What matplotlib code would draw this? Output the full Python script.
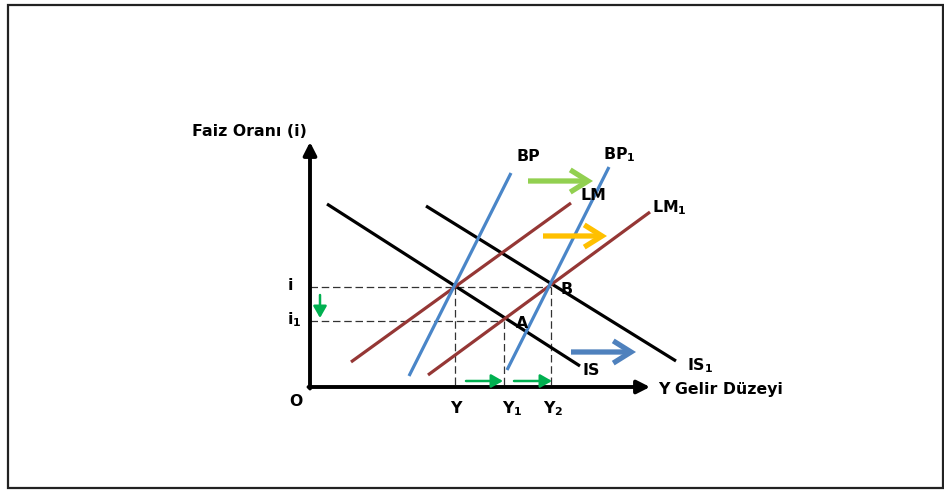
import matplotlib
matplotlib.use("Agg")
import matplotlib.pyplot as plt
from matplotlib.patches import FancyArrowPatch, Rectangle

plt.rcParams['font.family'] = ['DejaVu Sans']
plt.rcParams['mathtext.default'] = 'regular'

# ---- schematic data (pixel-like diagram units, origin of the graph at O) ----
origin = (310, 387)
x_axis_end = 650
y_axis_end = 142

curve_names = ["IS", "IS1", "LM", "LM1", "BP", "BP1"]
curve_x0 = [327, 426, 351, 428, 409, 507]
curve_y0 = [204, 206, 362, 375, 376, 370]
curve_x1 = [580, 676, 571, 650, 511, 609]
curve_y1 = [366, 361, 203, 212, 173, 167]
curve_colors = ["black", "black", "#953735", "#953735", "#4A86C8", "#4A86C8"]

# equilibrium levels
i_level = 287
i1_level = 321
Y_pos = [455, 504, 551]   # Y, Y1, Y2
h_ends = [551, 502]        # end of dashed i and i1 lines

labels = ["Faiz Oranı (i)", "O", "Y Gelir Düzeyi", "i", "i$_1$", "Y", "Y$_1$", "Y$_2$",
          "A", "B", "IS", "IS$_1$", "LM", "LM$_1$", "BP", "BP$_1$"]
label_x = [192, 289, 658, 288, 287, 450, 502, 543, 516, 561, 582, 687, 581, 652, 517, 603]
label_y = [131, 401, 389, 285, 320, 408, 409, 409, 323, 289, 370, 366, 195, 208, 156, 155]

big_arrows_x0 = [528, 543, 571]
big_arrows_x1 = [593, 607, 636]
big_arrows_y = [181, 236, 352]
big_arrow_colors = ["#92D050", "#FFC000", "#4F81BD"]

small_arrows = [((466, 381), (503, 381)), ((514, 381), (552, 381)), ((320, 295), (320, 318))]
small_arrow_color = "#00B050"

fig = plt.figure(figsize=(9.45, 4.9), dpi=100)
ax = fig.add_axes([0, 0, 1, 1])
ax.set_xlim(0, 945)
ax.set_ylim(490, 0)
ax.axis('off')

# frame
ax.add_patch(Rectangle((8, 5), 935, 483, fill=False, lw=1.6, edgecolor='#222222'))

# dashed guides
dash = dict(color='#333333', lw=0.9, ls=(0, (6, 3)))
ax.plot([origin[0], h_ends[0]], [i_level, i_level], **dash)
ax.plot([origin[0], h_ends[1]], [i1_level, i1_level], **dash)
ax.plot([Y_pos[0], Y_pos[0]], [i_level, origin[1]], **dash)
ax.plot([Y_pos[1], Y_pos[1]], [i1_level, origin[1]], **dash)
ax.plot([Y_pos[2], Y_pos[2]], [i_level, origin[1]], **dash)

# curves
for x0, y0, x1, y1, c in zip(curve_x0, curve_y0, curve_x1, curve_y1, curve_colors):
    ax.plot([x0, x1], [y0, y1], color=c, lw=2.3, solid_capstyle='butt', zorder=3)

# axes
ax.add_patch(FancyArrowPatch((origin[0], origin[1] + 1.5), (origin[0], y_axis_end),
                             arrowstyle='-|>,head_length=0.55,head_width=0.28',
                             mutation_scale=14, lw=2.8, color='black', zorder=4,
                             shrinkA=0, shrinkB=0))
ax.add_patch(FancyArrowPatch((origin[0] - 1.5, origin[1]), (x_axis_end, origin[1]),
                             arrowstyle='-|>,head_length=0.55,head_width=0.28',
                             mutation_scale=14, lw=2.8, color='black', zorder=4,
                             shrinkA=0, shrinkB=0))

# big shift arrows
for x0, x1, y, c in zip(big_arrows_x0, big_arrows_x1, big_arrows_y, big_arrow_colors):
    ax.add_patch(FancyArrowPatch((x0, y), (x1, y),
                                 arrowstyle='->,head_length=0.8,head_width=0.5',
                                 mutation_scale=16, lw=3.8, color=c, zorder=5,
                                 shrinkA=0, shrinkB=0, joinstyle='miter', capstyle='butt'))

# small green arrows
for (p0, p1) in small_arrows:
    ax.add_patch(FancyArrowPatch(p0, p1,
                                 arrowstyle='-|>,head_length=0.7,head_width=0.4',
                                 mutation_scale=10, lw=1.8, color=small_arrow_color, zorder=5,
                                 shrinkA=0, shrinkB=0))

# labels
for t, x, y in zip(labels, label_x, label_y):
    ax.text(x, y, t, fontsize=11.3, fontweight='bold', ha='left', va='center', zorder=6)

fig.savefig("out.png", dpi=100)
